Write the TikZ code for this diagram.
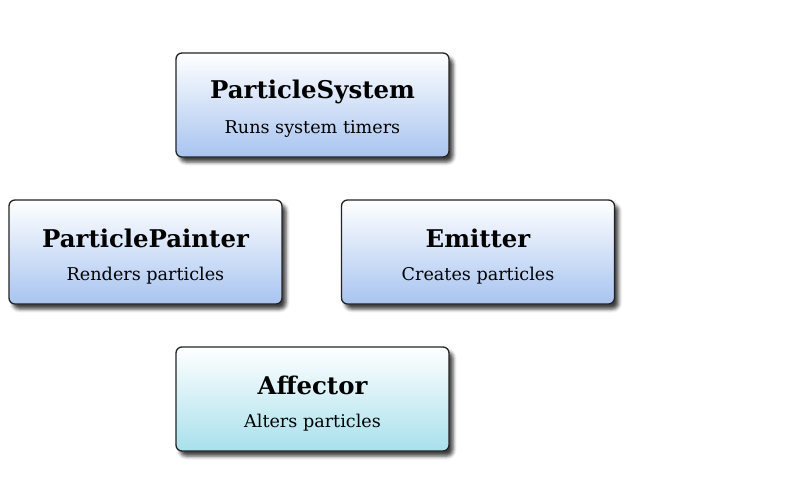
\documentclass[tikz,border=0pt]{standalone}
\usepackage{fontspec}
\setmainfont{DejaVu Serif}
\usetikzlibrary{shadows.blur}
\definecolor{boxblue}{RGB}{168,196,240}
\definecolor{boxcyan}{RGB}{168,224,236}
\definecolor{boxline}{RGB}{35,35,35}
\tikzset{
  card/.style={draw=boxline, line width=1.3pt, rounded corners=6pt,
    minimum width=273pt, minimum height=104pt, inner sep=0pt,
    top color=white, bottom color=#1, align=center,
    blur shadow={shadow xshift=4pt, shadow yshift=-5pt, shadow blur radius=3.5pt, shadow opacity=75}},
  ttl/.style={font=\bfseries\fontsize{24.4}{28}\selectfont},
  sub/.style={font=\fontsize{17.6}{20}\selectfont}
}
\begin{document}
\begin{tikzpicture}[x=1pt,y=-1pt]
\useasboundingbox (0,0) rectangle (800,500);
\node[card=boxblue] (ps) at (312.5,105) {};
\node[card=boxblue] (pp) at (145.5,252) {};
\node[card=boxblue] (em) at (478,252) {};
\node[card=boxcyan] (af) at (312.5,399) {};
\node[ttl] (pst) at ([yshift=13.5pt]ps.center) {ParticleSystem};
\node[sub] (pss) at ([yshift=-24pt]ps.center) {Runs system timers};
\node[ttl] (ppt) at ([yshift=13.5pt]pp.center) {ParticlePainter};
\node[sub] (pps) at ([yshift=-24pt]pp.center) {Renders particles};
\node[ttl] (emt) at ([yshift=13.5pt]em.center) {Emitter};
\node[sub] (ems) at ([yshift=-24pt]em.center) {Creates particles};
\node[ttl] (aft) at ([yshift=13.5pt]af.center) {Affector};
\node[sub] (afs) at ([yshift=-24pt]af.center) {Alters particles};
\end{tikzpicture}
\end{document}
